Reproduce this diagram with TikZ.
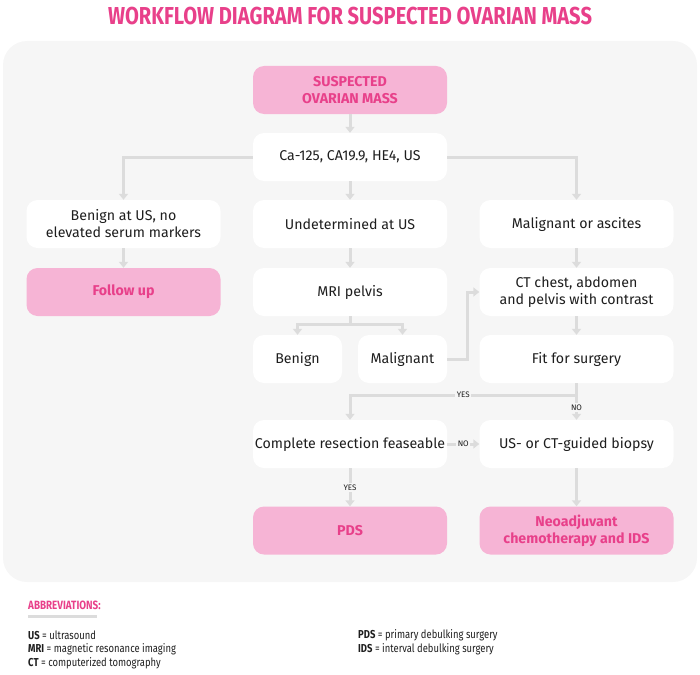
\documentclass[tikz,border=0pt]{standalone}
\usepackage{fontspec}
\setmainfont{Fira Sans}
\newfontfamily\condfont[FakeStretch=0.82]{Fira Sans}
\usetikzlibrary{arrows.meta}
\definecolor{panel}{HTML}{F6F6F6}
\definecolor{pinkfill}{HTML}{F6B4D5}
\definecolor{pinktext}{HTML}{E8408A}
\definecolor{linegray}{HTML}{DCDCDC}
\definecolor{txt}{HTML}{1E1E1E}
\tikzset{
  boxbase/.style={rounded corners=11pt, minimum height=48pt, inner sep=0pt, align=center, font=\fontsize{14.2}{17}\selectfont, text=txt},
  wbox/.style={boxbase, fill=white, minimum width=194pt},
  pbox/.style={boxbase, fill=pinkfill, minimum width=194pt, text=pinktext, font=\fontsize{14.2}{17}\selectfont\bfseries},
  sbox/.style={boxbase, fill=white, minimum width=89pt},
  conn/.style={draw=linegray, line width=3pt, -{Triangle[width=9pt,length=6pt]}},
  plain/.style={draw=linegray, line width=3pt},
  lbl/.style={fill=panel, inner sep=1.5pt, font=\fontsize{8}{9}\selectfont, text=txt},
  abbr/.style={anchor=west, font=\condfont\fontsize{11.5}{13}\selectfont, text=txt, inner sep=0pt}
}
\begin{document}
\begin{tikzpicture}[x=1pt,y=-1pt]
\useasboundingbox (0,0) rectangle (700,674);
\node[font=\condfont\fontsize{24.5}{27}\selectfont\bfseries, text=pinktext] (title) at (350,16) {WORKFLOW DIAGRAM FOR SUSPECTED OVARIAN MASS};
\fill[panel, rounded corners=24pt] (3,41) rectangle (697,582);

\node[pbox] (sus) at (350,90) {SUSPECTED\\OVARIAN MASS};
\node[wbox] (ca) at (350,157) {Ca-125, CA19.9, HE4, US};
\node[wbox] (benus) at (123.5,224) {Benign at US, no\\elevated serum markers};
\node[wbox] (und) at (350,224) {Undetermined at US};
\node[wbox] (mal) at (576.5,224) {Malignant or ascites};
\node[pbox] (fol) at (123.5,292) {Follow up};
\node[wbox] (mri) at (350,292) {MRI pelvis};
\node[wbox] (ct) at (576.5,292) {CT chest, abdomen\\and pelvis with contrast};
\node[sbox] (ben) at (297.5,359) {Benign};
\node[sbox] (malg) at (402.5,359) {Malignant};
\node[wbox] (fit) at (576.5,359) {Fit for surgery};
\node[wbox] (comp) at (350,444) {Complete resection feaseable};
\node[wbox] (bio) at (576.5,444) {US- or CT-guided biopsy};
\node[pbox] (pds) at (350,530.5) {PDS};
\node[pbox] (neo) at (576.5,530.5) {Neoadjuvant\\chemotherapy and IDS};

\draw[conn] (sus) -- (ca);
\draw[conn] (ca.west) -| (benus);
\draw[conn] (ca) -- (und);
\draw[conn] (ca.east) -| (mal);
\draw[conn] (benus) -- (fol);
\draw[conn] (und) -- (mri);
\draw[conn] (mal) -- (ct);
\coordinate (split) at (350,324);
\draw[plain] (mri.south) -- (split);
\draw[conn] (split) -| (ben);
\draw[conn] (split) -| (malg);
\draw[conn] (malg.east) -- ++(20,0) |- (ct.west);
\draw[conn] (ct) -- (fit);
\coordinate (fy) at (576.5,395);
\draw[plain] (fit.south) -- (fy);
\draw[conn] (fy) -| node[lbl, pos=0.25] {YES} (comp);
\draw[conn] (fy) -- node[lbl] {NO} (bio);
\draw[conn] (comp) -- node[lbl] {NO} (bio);
\draw[conn] (comp) -- node[lbl] {YES} (pds);
\draw[conn] (bio) -- (neo);

\node[abbr, font=\condfont\fontsize{12}{14}\selectfont\bfseries, text=pinktext] (abh) at (28,605) {ABBREVIATIONS:};
\fill[linegray] (28,615) rectangle (97,618);
\node[abbr] (a1) at (28,635) {\textbf{US} = ultrasound};
\node[abbr] (a2) at (28,649) {\textbf{MRI} = magnetic resonance imaging};
\node[abbr] (a3) at (28,663) {\textbf{CT} = computerized tomography};
\node[abbr] (a4) at (358,635) {\textbf{PDS} = primary debulking surgery};
\node[abbr] (a5) at (358,649) {\textbf{IDS} = interval debulking surgery};
\end{tikzpicture}
\end{document}
